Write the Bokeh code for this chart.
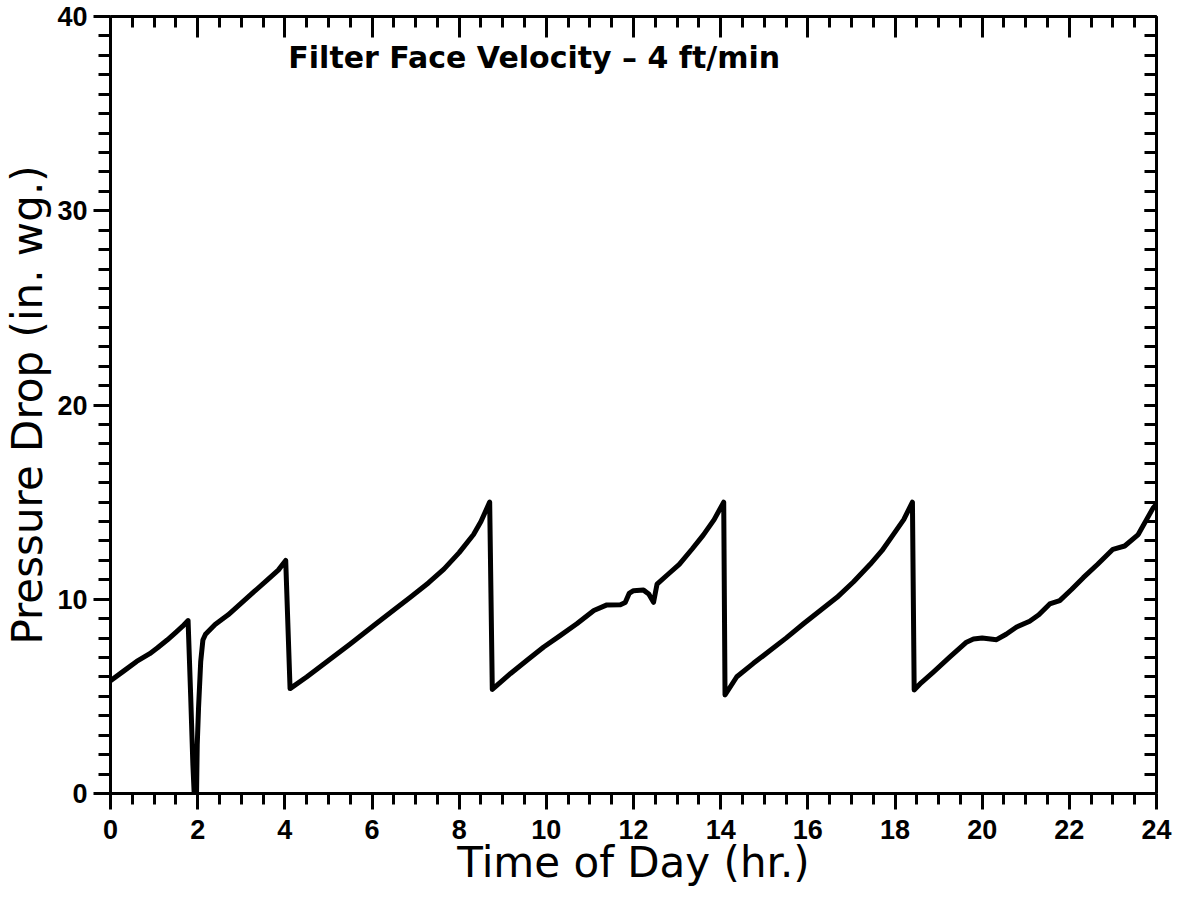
from bokeh.plotting import figure
from bokeh.models import LinearAxis, Range1d, SingleIntervalTicker, Label
from bokeh.embed import file_html
from bokeh.resources import INLINE

# ---- data ----
time_hr = [
    0.0, 0.3, 0.6, 0.9, 1.08, 1.3, 1.5, 1.65, 1.78,
    1.84, 1.89, 1.93, 1.97, 1.99, 2.02, 2.07, 2.12, 2.18, 2.4, 2.7, 3.0, 3.3, 3.6, 3.85, 4.02,
    4.12, 4.5, 5.0, 5.5, 6.07, 6.5, 6.88, 7.3, 7.65, 8.0, 8.33, 8.5, 8.7,
    8.76, 9.18, 9.55, 9.94, 10.3, 10.7, 11.09, 11.39, 11.7, 11.81, 11.9, 12.0, 12.23, 12.35,
    12.46, 12.54, 12.8, 13.05, 13.35, 13.6, 13.85, 14.07,
    14.1, 14.37, 14.75, 15.14, 15.5, 15.9, 16.3, 16.67, 17.05, 17.43, 17.7, 17.96, 18.2, 18.4,
    18.44, 18.6, 18.88, 19.26, 19.64, 19.8, 20.0, 20.33, 20.55, 20.79, 21.09, 21.3, 21.55,
    21.78, 22.05, 22.32, 22.65, 23.0, 23.27, 23.58, 23.92, 24.0,
]
pressure_drop = [
    5.8, 6.3, 6.8, 7.2, 7.5, 7.9, 8.3, 8.6, 8.9,
    5.0, 1.5, -0.5, -0.6, 2.5, 4.4, 6.8, 7.9, 8.2, 8.7, 9.2, 9.8, 10.4, 11.0, 11.5, 12.0,
    5.4, 6.0, 6.85, 7.7, 8.7, 9.45, 10.1, 10.85, 11.55, 12.4, 13.33, 14.0, 15.0,
    5.36, 6.18, 6.85, 7.54, 8.1, 8.74, 9.42, 9.71, 9.72, 9.83, 10.3, 10.44, 10.47, 10.27,
    9.84, 10.78, 11.3, 11.8, 12.6, 13.3, 14.1, 15.0,
    5.07, 6.01, 6.7, 7.37, 8.0, 8.74, 9.45, 10.1, 10.9, 11.8, 12.5, 13.33, 14.1, 15.0,
    5.33, 5.7, 6.25, 7.03, 7.79, 7.95, 8.0, 7.92, 8.2, 8.57, 8.87, 9.2, 9.76,
    9.93, 10.5, 11.11, 11.8, 12.57, 12.74, 13.33, 14.69, 14.9,
]
x_label = "Time of Day (hr.)"
y_label = "Pressure Drop (in. wg.)"
note = "Filter Face Velocity \u2013 4 ft/min"

TICK_FONT = "Liberation Sans"
LABEL_FONT = "DejaVu Sans"

p = figure(
    frame_width=1046, frame_height=777,
    min_border_left=106, min_border_right=19, min_border_top=16, min_border_bottom=88,
    x_range=Range1d(0, 24), y_range=Range1d(0, 40),
    output_backend="svg", toolbar_location=None,
    background_fill_color="white", border_fill_color="white",
)
p.grid.visible = False
p.outline_line_color = None

p.line(time_hr, pressure_drop, line_width=5, line_color="black", line_join="round")

def style_axis(ax):
    ax.axis_line_width = 3
    ax.axis_line_color = "black"
    ax.major_tick_line_width = 3
    ax.minor_tick_line_width = 3
    ax.major_tick_line_color = "black"
    ax.minor_tick_line_color = "black"

# bottom axis
xb = p.xaxis[0]
xb.ticker = SingleIntervalTicker(interval=2, num_minor_ticks=4)
style_axis(xb)
xb.major_tick_in = 0
xb.major_tick_out = 16
xb.minor_tick_in = 0
xb.minor_tick_out = 11
xb.major_label_standoff = 10
xb.major_label_text_font = TICK_FONT
xb.major_label_text_font_style = "bold"
xb.major_label_text_font_size = "27px"
xb.major_label_text_color = "black"
xb.axis_label = x_label
xb.axis_label_standoff = -4
xb.axis_label_text_font = LABEL_FONT
xb.axis_label_text_font_style = "normal"
xb.axis_label_text_font_size = "42px"
xb.axis_label_text_color = "black"

# left axis
yl = p.yaxis[0]
yl.ticker = SingleIntervalTicker(interval=10, num_minor_ticks=10)
style_axis(yl)
yl.major_tick_in = 0
yl.major_tick_out = 17
yl.minor_tick_in = 0
yl.minor_tick_out = 12
yl.major_label_standoff = 6
yl.major_label_text_font = TICK_FONT
yl.major_label_text_font_style = "bold"
yl.major_label_text_font_size = "27px"
yl.major_label_text_color = "black"
yl.axis_label = y_label
yl.axis_label_standoff = 2
yl.axis_label_text_font = LABEL_FONT
yl.axis_label_text_font_style = "normal"
yl.axis_label_text_font_size = "42px"
yl.axis_label_text_color = "black"

# top axis (ticks inward, no labels)
xt = LinearAxis(ticker=SingleIntervalTicker(interval=2, num_minor_ticks=4))
style_axis(xt)
xt.major_tick_in = 21
xt.major_tick_out = 0
xt.minor_tick_in = 11
xt.minor_tick_out = 0
xt.major_label_text_font_size = "0px"
xt.major_label_text_color = None
xt.major_label_standoff = 0
p.add_layout(xt, "above")

# right axis (ticks inward, no labels)
yr = LinearAxis(ticker=SingleIntervalTicker(interval=10, num_minor_ticks=10))
style_axis(yr)
yr.major_tick_in = 12
yr.major_tick_out = 0
yr.minor_tick_in = 12
yr.minor_tick_out = 0
yr.major_label_text_font_size = "0px"
yr.major_label_text_color = None
yr.major_label_standoff = 0
p.add_layout(yr, "right")

# annotation inside the plot
p.add_layout(Label(
    x=4.08, y=37.9, text=note,
    text_font=LABEL_FONT, text_font_style="bold", text_font_size="30px",
    text_color="black", text_align="left", text_baseline="alphabetic",
))

open("out.html", "w").write(file_html(p, INLINE))
